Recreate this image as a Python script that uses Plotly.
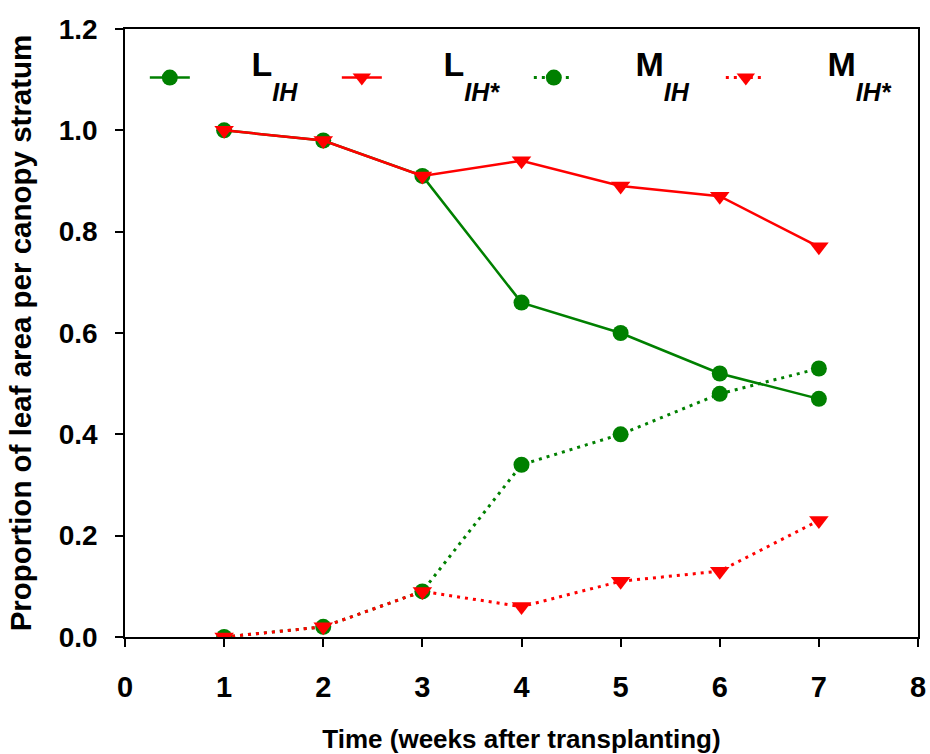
import plotly.graph_objects as go

# weeks after transplanting
weeks = [1, 2, 3, 4, 5, 6, 7]

# proportion of leaf area in each canopy stratum
l_ih = [1.00, 0.98, 0.91, 0.66, 0.60, 0.52, 0.47]
l_ih_star = [1.00, 0.98, 0.91, 0.94, 0.89, 0.87, 0.77]
m_ih = [0.00, 0.02, 0.09, 0.34, 0.40, 0.48, 0.53]
m_ih_star = [0.00, 0.02, 0.09, 0.06, 0.11, 0.13, 0.23]

x_ticks = [0, 1, 2, 3, 4, 5, 6, 7, 8]
y_ticks = [0.0, 0.2, 0.4, 0.6, 0.8, 1.0, 1.2]

GREEN = "#008000"
RED = "#ff0000"
FONT = "Liberation Sans, Arial, sans-serif"

# legend base size sets how far the lowered index sits below the letter
LEGEND_BASE = 60
pad = "\u00a0" * 6


def label(main, sub):
    # letter raised with <sup>, index left on the base line
    return (f"<sup><span style='font-size:34px'>{pad}<b>{main}</b></span></sup>"
            f"<span style='font-size:25px'><b><i>{sub}</i></b></span>")


series = [
    (l_ih, label("L", "IH"), GREEN, "circle", 16, "solid"),
    (l_ih_star, label("L", "IH*"), RED, "triangle-down", 17, "solid"),
    (m_ih, label("M", "IH"), GREEN, "circle", 16, "3px,5px"),
    (m_ih_star, label("M", "IH*"), RED, "triangle-down", 17, "3px,5px"),
]

fig = go.Figure()
for values, name, color, symbol, size, dash in series:
    width = 2.5 if dash == "solid" else 3
    fig.add_trace(go.Scatter(
        x=weeks, y=values, name=name, mode="lines+markers",
        line=dict(color=color, width=width, dash=dash),
        marker=dict(color=color, symbol=symbol, size=size, line=dict(width=0)),
    ))

axis_common = dict(
    showgrid=False, zeroline=False, showline=True, linecolor="black",
    linewidth=1.5, mirror=True, ticks="outside", ticklen=8, tickwidth=1.5,
    tickcolor="black", automargin=False,
)

fig.update_layout(
    width=930, height=754,
    margin=dict(l=125, r=12, t=29, b=117),
    paper_bgcolor="white", plot_bgcolor="white",
    font=dict(family=FONT, color="black"),
    showlegend=True,
    legend=dict(
        orientation="h", x=0.025, y=0.995, xanchor="left", yanchor="top",
        entrywidth=137, entrywidthmode="pixels", itemwidth=40,
        font=dict(family=FONT, size=LEGEND_BASE, color="black"),
        bgcolor="rgba(0,0,0,0)", tracegroupgap=0,
    ),
    xaxis=dict(
        range=[0, 8], tickvals=x_ticks, ticktext=[str(v) for v in x_ticks],
        tickfont=dict(family=FONT, size=29, color="black", weight="bold"),
        ticklabelstandoff=15,
        title=dict(text="<b>Time (weeks after transplanting)</b>",
                   font=dict(family=FONT, size=26, color="black"), standoff=30),
        **axis_common,
    ),
    yaxis=dict(
        range=[0, 1.2], tickvals=y_ticks, ticktext=[f"{v:.1f}" for v in y_ticks],
        tickfont=dict(family=FONT, size=28, color="black", weight="bold"),
        ticklabelstandoff=12,
        title=dict(text="<b>Proportion of leaf area per canopy stratum</b>",
                   font=dict(family=FONT, size=29.5, color="black"), standoff=18),
        **axis_common,
    ),
)

fig.write_html("out.html")
